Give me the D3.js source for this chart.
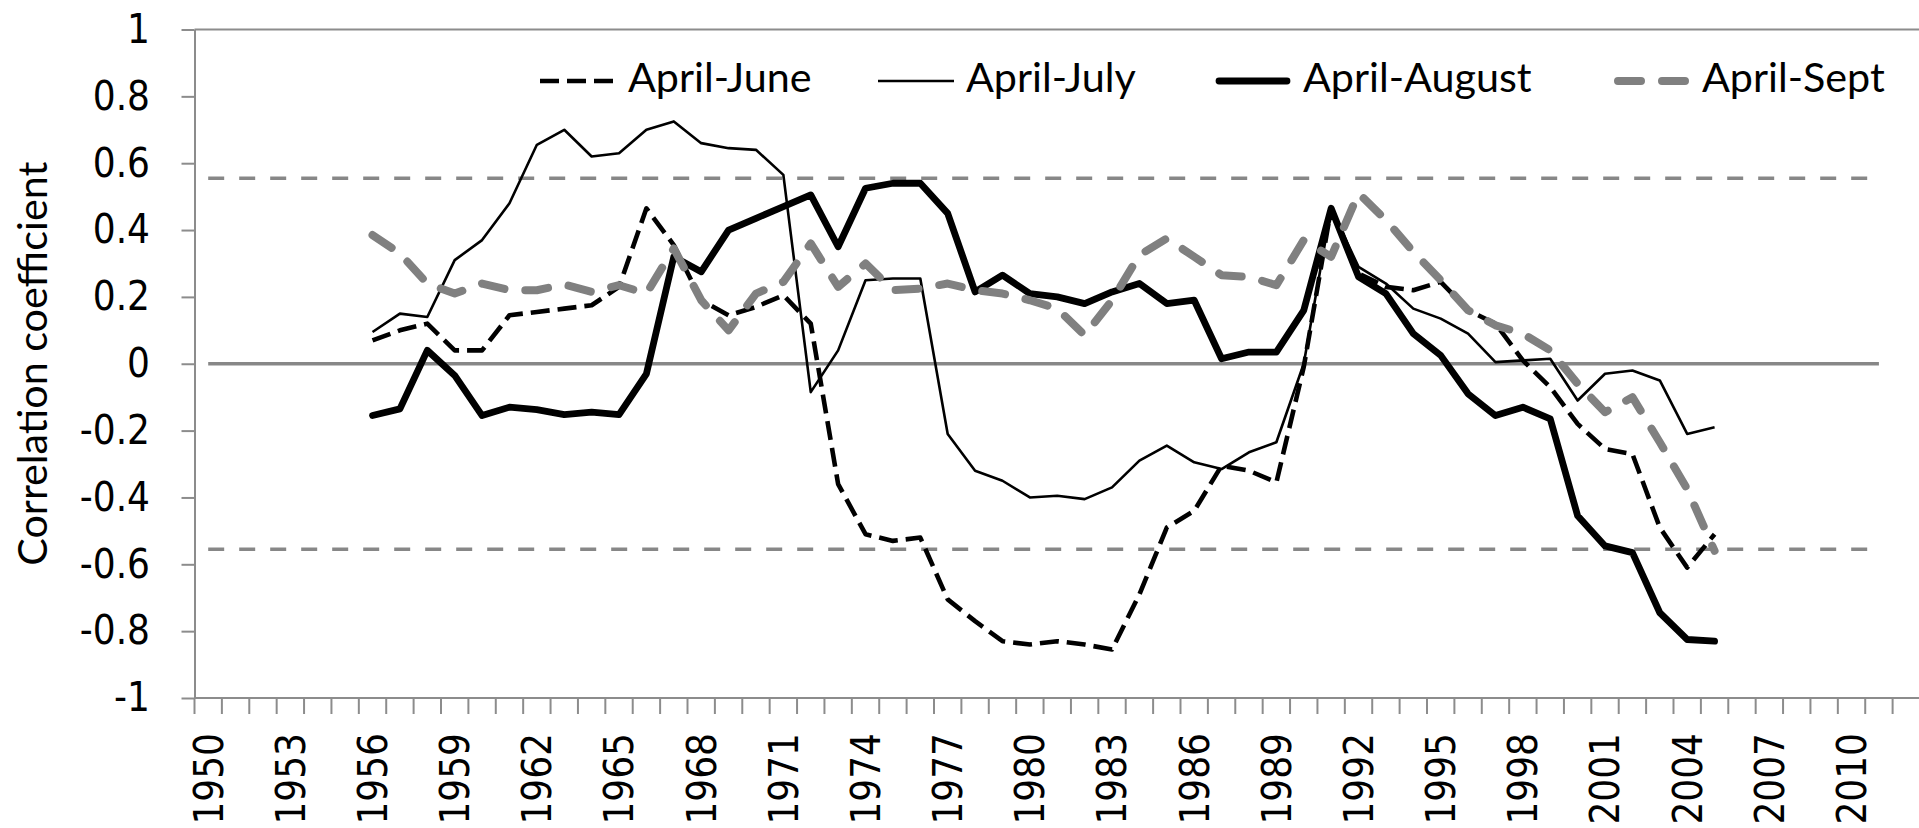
<!DOCTYPE html>
<html>
<head>
<meta charset="utf-8">
<script src="https://cdn.jsdelivr.net/npm/d3@7/dist/d3.min.js"></script>
<style>
  body { margin: 0; background: #ffffff; }
  svg { display: block; }
</style>
</head>
<body>
<div id="chart"></div>
<script>
// running correlation, one value per end year
var years = [1956, 1957, 1958, 1959, 1960, 1961, 1962, 1963, 1964, 1965,
             1966, 1967, 1968, 1969, 1970, 1971, 1972, 1973, 1974, 1975,
             1976, 1977, 1978, 1979, 1980, 1981, 1982, 1983, 1984, 1985,
             1986, 1987, 1988, 1989, 1990, 1991, 1992, 1993, 1994, 1995,
             1996, 1997, 1998, 1999, 2000, 2001, 2002, 2003, 2004, 2005];

var aprJun = [0.07, 0.10, 0.12, 0.04, 0.04, 0.145, 0.155, 0.165, 0.175, 0.23,
              0.465, 0.355, 0.19, 0.145, 0.17, 0.205, 0.12, -0.36, -0.51, -0.53,
              -0.52, -0.705, -0.77, -0.83, -0.84, -0.83, -0.84, -0.855, -0.69, -0.49,
              -0.44, -0.305, -0.32, -0.355, -0.01, 0.465, 0.27, 0.23, 0.22, 0.245,
              0.16, 0.12, 0.01, -0.07, -0.18, -0.255, -0.27, -0.49, -0.61, -0.51];

var aprJul = [0.095, 0.15, 0.14, 0.31, 0.37, 0.48, 0.655, 0.70, 0.62, 0.63,
              0.70, 0.725, 0.66, 0.645, 0.64, 0.565, -0.085, 0.04, 0.25, 0.255,
              0.255, -0.21, -0.32, -0.35, -0.40, -0.395, -0.405, -0.37, -0.29, -0.245,
              -0.295, -0.315, -0.265, -0.235, 0.0, 0.465, 0.29, 0.24, 0.165, 0.135,
              0.09, 0.005, 0.01, 0.015, -0.11, -0.03, -0.02, -0.05, -0.21, -0.19];

var aprAug = [-0.155, -0.135, 0.04, -0.035, -0.155, -0.13, -0.137, -0.152, -0.145, -0.152,
              -0.03, 0.32, 0.275, 0.40, 0.435, 0.47, 0.505, 0.35, 0.525, 0.54,
              0.54, 0.45, 0.215, 0.265, 0.21, 0.20, 0.18, 0.215, 0.24, 0.18,
              0.19, 0.015, 0.035, 0.035, 0.16, 0.465, 0.26, 0.21, 0.09, 0.025,
              -0.09, -0.155, -0.13, -0.165, -0.455, -0.545, -0.565, -0.745, -0.825, -0.83];

var aprSep = [0.385, 0.33, 0.24, 0.21, 0.24, 0.22, 0.22, 0.237, 0.215, 0.235,
              0.21, 0.345, 0.19, 0.10, 0.21, 0.245, 0.36, 0.23, 0.30, 0.22,
              0.225, 0.24, 0.22, 0.21, 0.19, 0.165, 0.085, 0.19, 0.325, 0.375,
              0.32, 0.265, 0.26, 0.235, 0.37, 0.32, 0.51, 0.43, 0.335, 0.25,
              0.16, 0.115, 0.09, 0.04, -0.06, -0.145, -0.10, -0.235, -0.375, -0.56];

var seriesNames = ["April-June", "April-July", "April-August", "April-Sept"];

// axis categories and labels
var axisYears = d3.range(1950, 2013);
var xTickLabels = [1950, 1953, 1956, 1959, 1962, 1965, 1968, 1971, 1974, 1977,
                   1980, 1983, 1986, 1989, 1992, 1995, 1998, 2001, 2004, 2007, 2010];
var yTicks = [1, 0.8, 0.6, 0.4, 0.2, 0, -0.2, -0.4, -0.6, -0.8, -1];

// significance level and the span it is drawn over
var critical = 0.555;
var refSpan = [1950, 2011];

var W = 1919, H = 828;
var plot = {left: 194.5, right: 1920, top: 29.5, bottom: 698};
var axisGrey = "#8c8c8c";
var refGrey = "#878787";
var labelFont = "'DejaVu Sans Condensed', 'Liberation Sans', sans-serif";
var textFont = "Lato, 'Open Sans', sans-serif";

var svg = d3.select("#chart").append("svg")
    .attr("width", W)
    .attr("height", H);

var x = d3.scaleBand().domain(axisYears).range([plot.left, plot.right]);
var xc = function (yr) { return x(yr) + x.bandwidth() / 2; };
var y = d3.scaleLinear().domain([-1, 1]).range([plot.bottom, plot.top]);

    //Reference lines: zero and +/- critical value
svg.append("line")
    .attr("x1", xc(refSpan[0])).attr("x2", xc(refSpan[1]))
    .attr("y1", y(0)).attr("y2", y(0))
    .style("stroke", refGrey).style("stroke-width", 3.3);

[critical, -critical].forEach(function (v) {
    svg.append("line")
        .attr("x1", xc(refSpan[0])).attr("x2", xc(refSpan[1]))
        .attr("y1", y(v)).attr("y2", y(v))
        .style("stroke", refGrey).style("stroke-width", 3.3)
        .style("stroke-dasharray", "16,15");
});

    //Y axis
var yAxis = svg.append("g")
    .attr("transform", "translate(" + plot.left + ",0)")
    .call(d3.axisLeft(y).tickValues(yTicks).tickSize(13).tickSizeOuter(0).tickPadding(31.5)
        .tickFormat(function (d) { return String(d); }));
yAxis.select(".domain").style("stroke", axisGrey).style("stroke-width", 2);
yAxis.selectAll(".tick line").style("stroke", axisGrey).style("stroke-width", 2);
yAxis.selectAll(".tick text")
    .attr("font-family", labelFont)
    .attr("font-size", 40)
    .attr("fill", "#000");

    //top border and x axis line
svg.append("line")
    .attr("x1", plot.left).attr("x2", W)
    .attr("y1", y(1)).attr("y2", y(1))
    .style("stroke", axisGrey).style("stroke-width", 2);
svg.append("line")
    .attr("x1", plot.left).attr("x2", W)
    .attr("y1", y(-1)).attr("y2", y(-1))
    .style("stroke", axisGrey).style("stroke-width", 2);

    //x ticks sit between categories
svg.selectAll("line.xtick")
    .data(axisYears)
    .enter()
    .append("line")
    .attr("class", "xtick")
    .attr("x1", function (d) { return x(d); })
    .attr("x2", function (d) { return x(d); })
    .attr("y1", y(-1))
    .attr("y2", y(-1) + 16)
    .style("stroke", axisGrey)
    .style("stroke-width", 2);

svg.selectAll("text.xlabel")
    .data(xTickLabels)
    .enter()
    .append("text")
    .attr("class", "xlabel")
    .attr("transform", function (d) { return "translate(" + xc(d) + "," + (y(-1) + 35) + ") rotate(-90)"; })
    .attr("text-anchor", "end")
    .attr("dy", "0.36em")
    .attr("font-family", labelFont)
    .attr("font-size", 40)
    .text(function (d) { return d; });

    //Series
var styles = [
    {values: aprJun, stroke: "#000", width: 4.6, dash: "19,8", cap: "butt"},
    {values: aprJul, stroke: "#000", width: 2.6, dash: null, cap: "butt"},
    {values: aprAug, stroke: "#000", width: 6.8, dash: null, cap: "round"},
    {values: aprSep, stroke: "#808080", width: 8, dash: "23,21", cap: "round"}
];

var line = d3.line()
    .x(function (d, i) { return xc(years[i]); })
    .y(function (d) { return y(d); });

styles.forEach(function (s) {
    svg.append("path")
        .datum(s.values)
        .attr("d", line)
        .style("fill", "none")
        .style("stroke", s.stroke)
        .style("stroke-width", s.width)
        .style("stroke-dasharray", s.dash)
        .style("stroke-linecap", s.cap)
        .style("stroke-linejoin", "round");
});

    //Legend
var legendX = [540, 878, 1215, 1614];
var legend = svg.append("g");
var legendTexts = [];
styles.forEach(function (s, i) {
    legend.append("line")
        .attr("x1", legendX[i] + (s.cap == "round" ? 4 : 0))
        .attr("x2", legendX[i] + (s.cap == "round" ? 72 : 76))
        .attr("y1", 81).attr("y2", 81)
        .style("stroke", s.stroke)
        .style("stroke-width", s.width)
        .style("stroke-dasharray", s.dash)
        .style("stroke-linecap", s.cap);
    legendTexts.push(legend.append("text")
        .attr("x", legendX[i] + 88)
        .attr("y", 91.5)
        .attr("font-family", textFont)
        .attr("font-size", 45)
        .text(seriesNames[i]));
});

    //Axis title
var title = svg.append("text")
    .attr("transform", "translate(47," + y(0) + ") rotate(-90)")
    .attr("text-anchor", "middle")
    .attr("font-family", textFont)
    .attr("font-size", 45)
    .text("Correlation coefficient");

    //size the text so that it takes the width of the original font
var fs = 45 * 228.7 / legendTexts[2].node().getComputedTextLength();
legendTexts.forEach(function (t) { t.attr("font-size", fs); });
title.attr("font-size", fs);
</script>
</body>
</html>
